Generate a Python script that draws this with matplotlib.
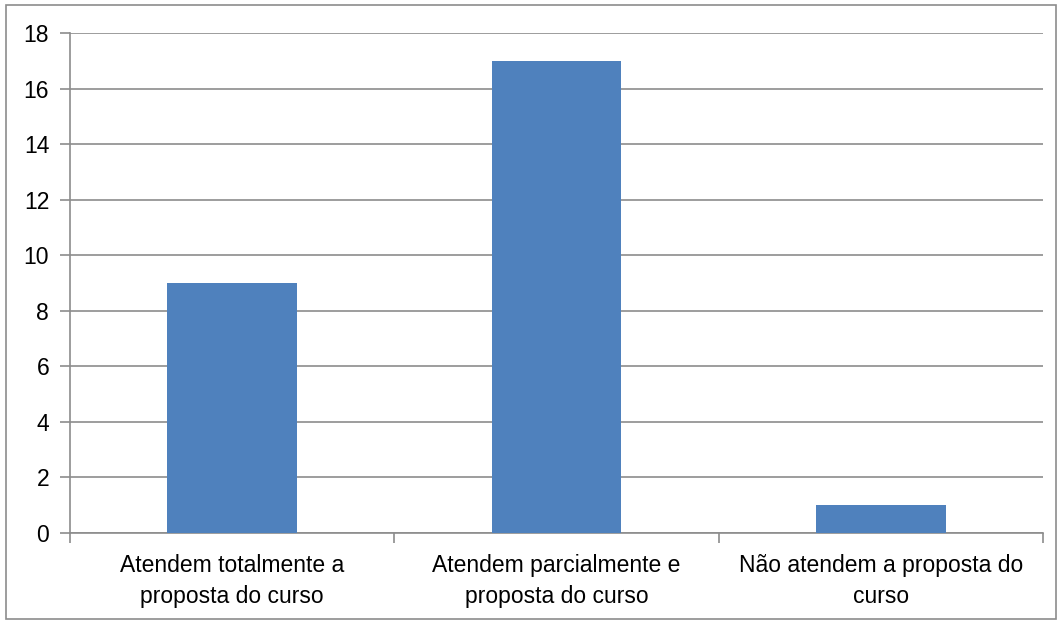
import numpy as np
import matplotlib as mpl
from matplotlib import pyplot as plt

categorias = ['Atendem totalmente a\nproposta do curso',
              'Atendem parcialmente e\nproposta do curso',
              'Não atendem a proposta do\ncurso']
valores = [9, 17, 1]
yticks = [0, 2, 4, 6, 8, 10, 12, 14, 16, 18]

plt.rcParams['font.family'] = ['Liberation Sans', 'DejaVu Sans']

fig = plt.figure(figsize=(10.63, 6.24), dpi=100)
ax = fig.add_axes([70/1063, 1 - 533/624, (1043 - 70)/1063, (533 - 33)/624])

x = np.arange(len(valores))
ax.bar(x, valores, width=0.4, color='#4F81BD', zorder=3)

ax.set_xlim(-0.5, 2.5)
ax.set_ylim(0, 18)
ax.set_yticks(yticks)
ax.yaxis.grid(True, color='#8c8c8c', linewidth=1.2, zorder=0)

ax.set_xticks(x)
ax.set_xticklabels(categorias, fontsize=16.5, linespacing=1.45)
ax.set_xticks([-0.5, 0.5, 1.5, 2.5], minor=True)
ax.tick_params(axis='x', which='major', length=0, pad=15)
ax.tick_params(axis='x', which='minor', length=7, width=1.2, color='#8c8c8c')
ax.tick_params(axis='y', length=7, width=1.2, color='#8c8c8c', labelsize=16.5, pad=8)

for s in ['top', 'right']:
    ax.spines[s].set_visible(False)
for s in ['left', 'bottom']:
    ax.spines[s].set_color('#8c8c8c')
    ax.spines[s].set_linewidth(1.2)

# moldura externa
borda = mpl.patches.Rectangle((6/1063, 5/624), 1050/1063, 614/624, transform=fig.transFigure,
                              fill=False, edgecolor='#8c8c8c', linewidth=1.2)
fig.patches.append(borda)

plt.savefig('out.png', dpi=100)
